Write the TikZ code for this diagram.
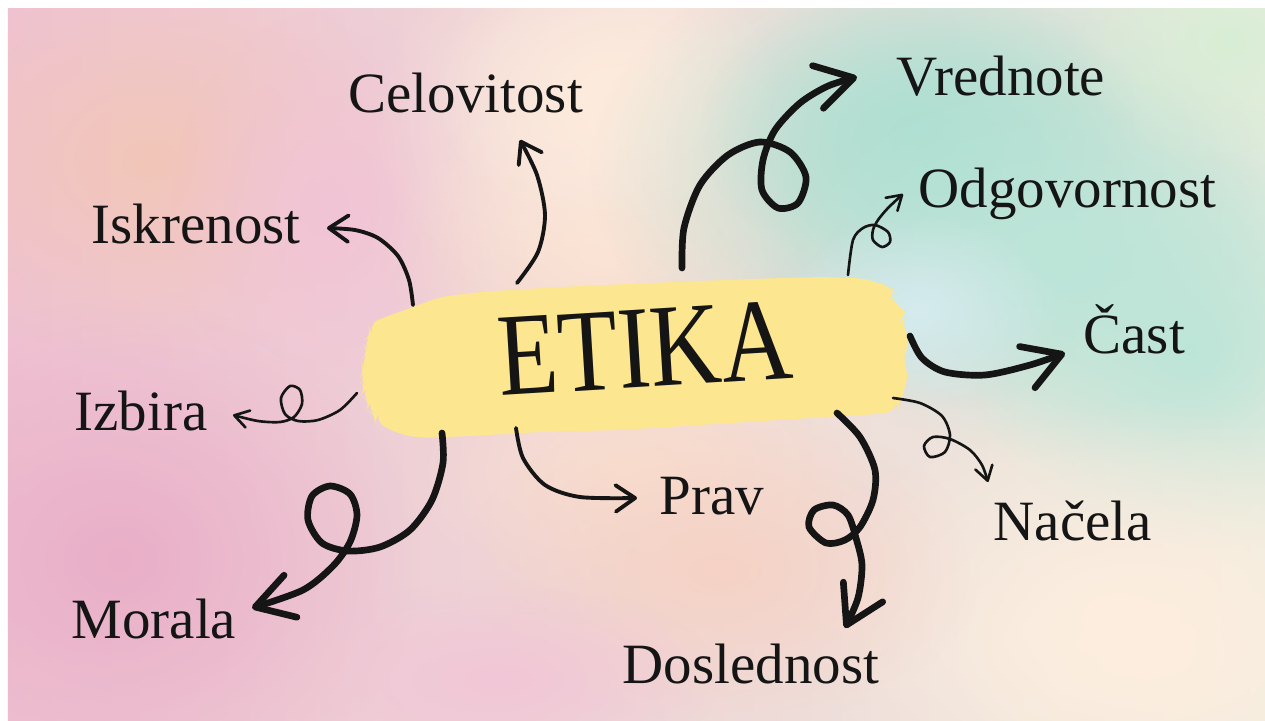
\documentclass[tikz,border=0pt]{standalone}
\usepackage{fontspec}
\setmainfont{Liberation Serif}
\usetikzlibrary{arrows.meta,fadings}
\tikzfading[name=softblob, inner color=transparent!0, outer color=transparent!100]
\definecolor{brushyellow}{HTML}{FCE68F}
\definecolor{ink}{HTML}{151515}
\definecolor{bgpinkL}{HTML}{EFC2D2}
\definecolor{bgmid}{HTML}{F8DDD2}
\definecolor{bgright}{HTML}{EDEDDF}
\definecolor{bpink}{HTML}{E9AFC8}
\definecolor{bpeach}{HTML}{F2C6B8}
\definecolor{bpinktop}{HTML}{F2C4D6}
\definecolor{bcream}{HTML}{FDEBDD}
\definecolor{bwarm}{HTML}{FAE0CF}
\definecolor{bteal}{HTML}{AEDFD2}
\definecolor{btealR}{HTML}{BCE5D8}
\definecolor{bgreen}{HTML}{D8EED5}
\definecolor{bblue}{HTML}{D5EBEF}
\definecolor{bcreamR}{HTML}{FDEEDF}
\definecolor{bpeachB}{HTML}{F6D2C5}
\definecolor{bpinkB}{HTML}{F2C6D6}
\tikzset{
  lbl/.style={anchor=base west, inner sep=0pt, text=ink, font=\fontsize{16.2}{19}\selectfont},
  blob/.style={fill=#1, path fading=softblob},
  thickarr/.style={draw=ink, line width=1.9pt, line cap=round, line join=round,
    -{Straight Barb[length=10.5pt,width=12.5pt,round]}},
  medarr/.style={draw=ink, line width=1.1pt, line cap=round, line join=round,
    -{Straight Barb[length=5.5pt,width=7.5pt,round]}},
  thinarr/.style={draw=ink, line width=0.75pt, line cap=round, line join=round,
    -{Straight Barb[length=4pt,width=5pt,round]}},
}
\begin{document}
\begin{tikzpicture}[x=0.01cm,y=-0.01cm]
\useasboundingbox (0,0) rectangle (1265,720);
\fill[white] (0,0) rectangle (1265,720);
% watercolor background
\shade[left color=bgpinkL, middle color=bgmid, right color=bgright] (8,8) rectangle (1265,720);
\begin{scope}
\clip (8,8) rectangle (1265,720);
\fill[blob=bpink] (120,560) ellipse [x radius=3.0cm, y radius=2.6cm];
\fill[blob=bpeach] (150,160) ellipse [x radius=2.6cm, y radius=2.0cm];
\fill[blob=bpinktop] (330,210) ellipse [x radius=1.6cm, y radius=2.0cm];
\fill[blob=bwarm] (600,250) ellipse [x radius=2.2cm, y radius=1.6cm];
\fill[blob=bwarm] (640,470) ellipse [x radius=2.4cm, y radius=1.4cm];
\fill[blob=bcream] (630,120) ellipse [x radius=2.6cm, y radius=2.2cm];
\fill[blob=bcream] (610,90) ellipse [x radius=1.8cm, y radius=1.4cm];
\fill[blob=bteal] (950,170) ellipse [x radius=3.6cm, y radius=2.4cm];
\fill[blob=bteal] (920,130) ellipse [x radius=2.2cm, y radius=1.5cm];
\fill[blob=btealR] (1060,260) ellipse [x radius=3.0cm, y radius=2.0cm];
\fill[blob=btealR] (1190,350) ellipse [x radius=2.2cm, y radius=2.0cm];
\fill[blob=bgreen] (1230,40) ellipse [x radius=1.6cm, y radius=1.3cm];
\fill[blob=bblue] (920,310) ellipse [x radius=1.4cm, y radius=1.0cm];
\fill[blob=bcreamR] (1120,620) ellipse [x radius=3.2cm, y radius=2.2cm];
\fill[blob=bcreamR] (1150,650) ellipse [x radius=2.2cm, y radius=1.4cm];
\fill[blob=bpeachB] (720,570) ellipse [x radius=2.6cm, y radius=1.6cm];
\fill[blob=bpinkB] (500,680) ellipse [x radius=2.2cm, y radius=1.0cm];
\end{scope}
% brush stroke
\fill[brushyellow, rounded corners=3pt]
 (405,310) -- (440,297) -- (480,292) -- (560,287) -- (650,283) -- (750,279) -- (820,277)
 -- (862,278) -- (875,282) -- (892,287) -- (896,296) -- (888,300) -- (903,306) -- (907,318)
 -- (898,322) -- (910,330) -- (905,342) -- (909,355) -- (900,362) -- (911,372) -- (903,384)
 -- (907,396) -- (896,402) -- (898,410) -- (880,414) -- (840,416) -- (780,420) -- (700,425)
 -- (620,430) -- (540,432) -- (470,436) -- (420,438) -- (395,433) -- (385,426) -- (375,422)
 -- (378,415) -- (366,410) -- (372,402) -- (360,395) -- (368,388) -- (358,380) -- (366,370)
 -- (360,360) -- (370,352) -- (362,342) -- (373,335) -- (368,325) -- (382,318) -- cycle;
% centre
\node[inner sep=0pt, text=ink, rotate=3.5, font=\fontsize{33.5}{40}\selectfont] (etika) at (645,348) {\scalebox{0.835}[1]{ETIKA}};
% labels
\node[lbl] (celovitost) at (348,112) {Celovitost};
\node[lbl] (iskrenost) at (91,243) {Iskrenost};
\node[lbl] (izbira) at (74,430) {Izbira};
\node[lbl] (morala) at (71,638) {Morala};
\node[lbl] (prav) at (659,514) {Prav};
\node[lbl] (doslednost) at (622,683) {Doslednost};
\node[lbl] (nacela) at (993,540) {Načela};
\node[lbl] (cast) at (1083,353) {Čast};
\node[lbl] (odgovornost) at (918,207) {Odgovornost};
\node[lbl] (vrednote) at (896,95) {Vrednote};
% connector end points
\coordinate (sCel) at (517,283); \coordinate (eCel) at (520,140);
\coordinate (sIsk) at (413,305); \coordinate (eIsk) at (327,228);
\coordinate (sIzb) at (357,393); \coordinate (eIzb) at (233,415);
\coordinate (sMor) at (442,433); \coordinate (eMor) at (252,608);
\coordinate (sPra) at (516,428); \coordinate (ePra) at (637,498);
\coordinate (sDos) at (837,413); \coordinate (eDos) at (845,628);
\coordinate (sNac) at (893,398); \coordinate (eNac) at (988,482);
\coordinate (sCas) at (910,336); \coordinate (eCas) at (1065,353);
\coordinate (sOdg) at (848,275); \coordinate (eOdg) at (903,194);
\coordinate (sVre) at (682,268); \coordinate (eVre) at (857,77);
% connectors
\draw[medarr] plot[smooth] coordinates {(sCel) (538,252) (545,215) (537,175) (eCel)};
\draw[medarr] plot[smooth] coordinates {(sIsk) (409,280) (398,256) (378,238) (355,230) (eIsk)};
\draw[thinarr] plot[smooth] coordinates {(sIzb) (340,410) (318,420) (298,421) (285,414) (281,398) (290,386) (300,390) (302,404) (294,417) (280,422) (258,421) (eIzb)};
\draw[thickarr] plot[smooth] coordinates {(sMor) (443,463) (432,500) (410,530) (380,547) (348,551) (322,543) (308,520) (312,496) (330,486) (350,494) (357,515) (350,542) (333,566) (303,590) (eMor)};
\draw[medarr] plot[smooth] coordinates {(sPra) (523,458) (545,485) (580,497) (ePra)};
\draw[thickarr] plot[smooth] coordinates {(sDos) (860,437) (875,470) (873,500) (860,527) (845,540) (826,543) (809,527) (814,510) (833,505) (848,515) (856,538) (862,565) (858,598) (eDos)};
\draw[thinarr] plot[smooth] coordinates {(sNac) (920,403) (942,416) (950,435) (945,452) (930,457) (924,446) (933,437) (950,439) (970,450) (982,465) (eNac)};
\draw[thickarr] plot[smooth] coordinates {(sCas) (922,358) (945,372) (985,375) (1030,365) (eCas)};
\draw[thinarr] plot[smooth] coordinates {(sOdg) (853,240) (863,228) (875,225) (888,232) (890,242) (882,247) (873,240) (873,230) (878,220) (888,208) (eOdg)};
\draw[thickarr] plot[smooth] coordinates {(sVre) (684,228) (700,185) (728,155) (760,142) (790,152) (806,177) (798,203) (778,208) (762,190) (763,160) (775,130) (800,103) (828,86) (eVre)};
\end{tikzpicture}
\end{document}
